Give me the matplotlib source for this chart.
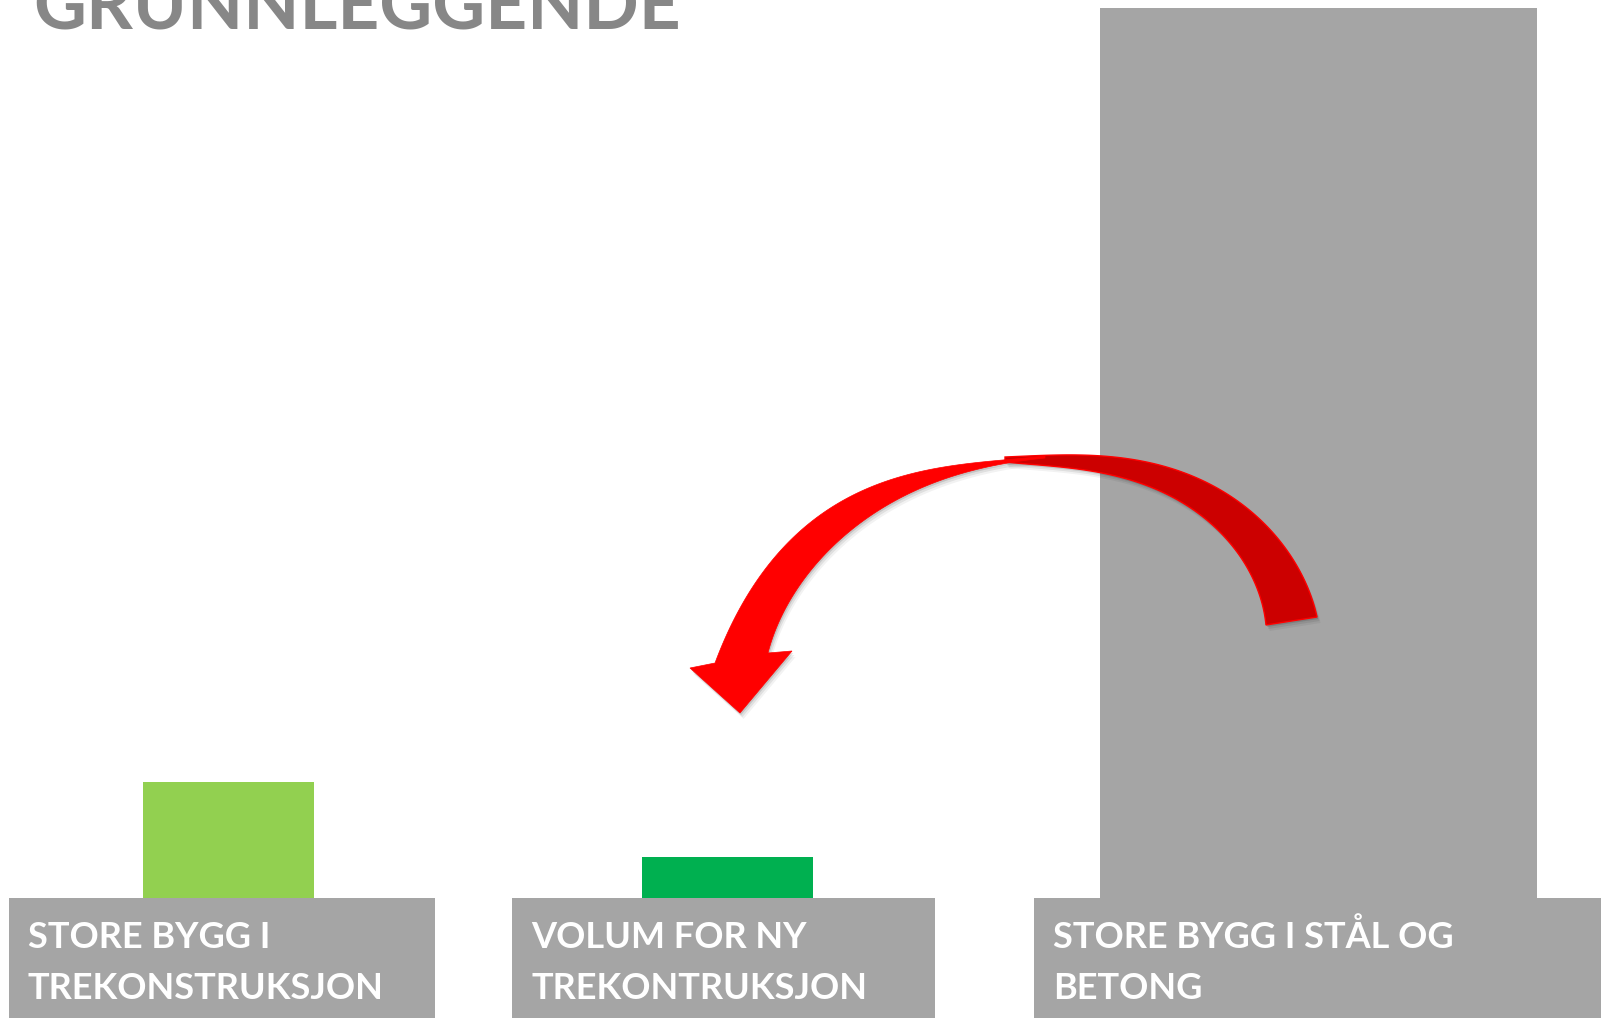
import numpy as np
import matplotlib
matplotlib.use("Agg")
import matplotlib.pyplot as plt
from matplotlib.patches import Rectangle, Polygon

# data
categories = ["STORE BYGG I\nTREKONSTRUKSJON", "VOLUM FOR NY\nTREKONTRUKSJON", "STORE BYGG I STÅL OG\nBETONG"]
values = [13.0, 4.6, 100.0]
bar_colors = ["#92D050", "#00B050", "#A5A5A5"]
title = "GRUNNLEGGENDE"

# layout (pixels, figure is 1601 x 1018)
W, H = 1601, 1018
bar_x = [228.5, 727.5, 1318.5]
bar_w = [171, 171, 437]
box_x = [(9, 435), (512, 935), (1034, 1601)]
base_y = 898
top_y = 8
FONT = "Lato"

fig = plt.figure(figsize=(W / 100, H / 100), dpi=100)

# bars
ax = fig.add_axes([0, (H - base_y) / H, 1, (base_y - top_y) / H])
ax.bar(bar_x, values, width=bar_w, color=bar_colors, align="center")
ax.set_xlim(0, W)
ax.set_ylim(0, max(values))
ax.axis("off")

# overlay in pixel coordinates
ov = fig.add_axes([0, 0, 1, 1], zorder=2)
ov.set_xlim(0, W)
ov.set_ylim(H, 0)
ov.patch.set_alpha(0)
ov.axis("off")

ov.text(33, 29, title, fontsize=52.5, fontweight="bold", color="#878787",
        family=FONT, va="baseline", ha="left")

for (x0, x1), lab in zip(box_x, categories):
    ov.add_patch(Rectangle((x0, base_y), x1 - x0, H - base_y, color="#A5A5A5", lw=0))
    for k, line in enumerate(lab.split("\n")):
        ov.text(x0 + 19, 948 + 51 * k, line, fontsize=26, fontweight="bold",
                color="white", family=FONT, va="baseline", ha="left")


def smooth(pts, deg=4, n=120):
    # least squares polynomial through the outline points, ends held firm
    P = np.array(pts, float)
    s = np.r_[0, np.cumsum(np.hypot(*np.diff(P, axis=0).T))]
    s /= s[-1]
    w = np.ones(len(P))
    w[[0, -1]] = 20
    t = np.linspace(0, 1, n)
    fx = np.polyfit(s, P[:, 0], deg, w=w)
    fy = np.polyfit(s, P[:, 1], deg, w=w)
    return np.column_stack([np.polyval(fx, t), np.polyval(fy, t)])


# curved arrow (twisted ribbon): back part dark, front part bright
dark_outer = smooth([(1005, 457), (1047, 456), (1080, 455), (1130, 458), (1180, 472),
                     (1220, 490), (1253, 513), (1280, 540), (1300, 573), (1317, 617)])
dark_inner = smooth([(1005, 462), (1047, 465), (1080, 470), (1130, 480), (1173, 497),
                     (1207, 520), (1233, 547), (1250, 573), (1260, 596), (1266, 625)])
dark = np.vstack([dark_outer, dark_inner[::-1]])

front_outer = smooth([(1045, 456), (1013, 458), (980, 463), (947, 467), (913, 473),
                      (880, 483), (833, 507), (800, 530), (767, 567), (743, 603),
                      (725, 640), (715, 663)])
front_inner = smooth([(1045, 458), (1013, 463), (980, 469), (947, 478), (913, 490),
                      (890, 503), (867, 520), (840, 540), (817, 563), (797, 590),
                      (783, 613), (773, 633), (768, 653)])
head = np.array([(690, 668), (740, 713), (792, 651)])
front = np.vstack([front_outer, head, front_inner[::-1]])

for dx, a in ((2, 0.12), (4, 0.08), (6, 0.05)):
    for poly in (dark, front):
        ov.add_patch(Polygon(poly + [dx * 0.6, dx], closed=True, color="black", alpha=a, lw=0))
ov.add_patch(Polygon(dark, closed=True, facecolor="#CC0000", edgecolor="#FF0000", lw=1))
ov.add_patch(Polygon(front, closed=True, facecolor="#FF0000", edgecolor="#FF0000", lw=0.5))

fig.savefig("out.png", dpi=100)
